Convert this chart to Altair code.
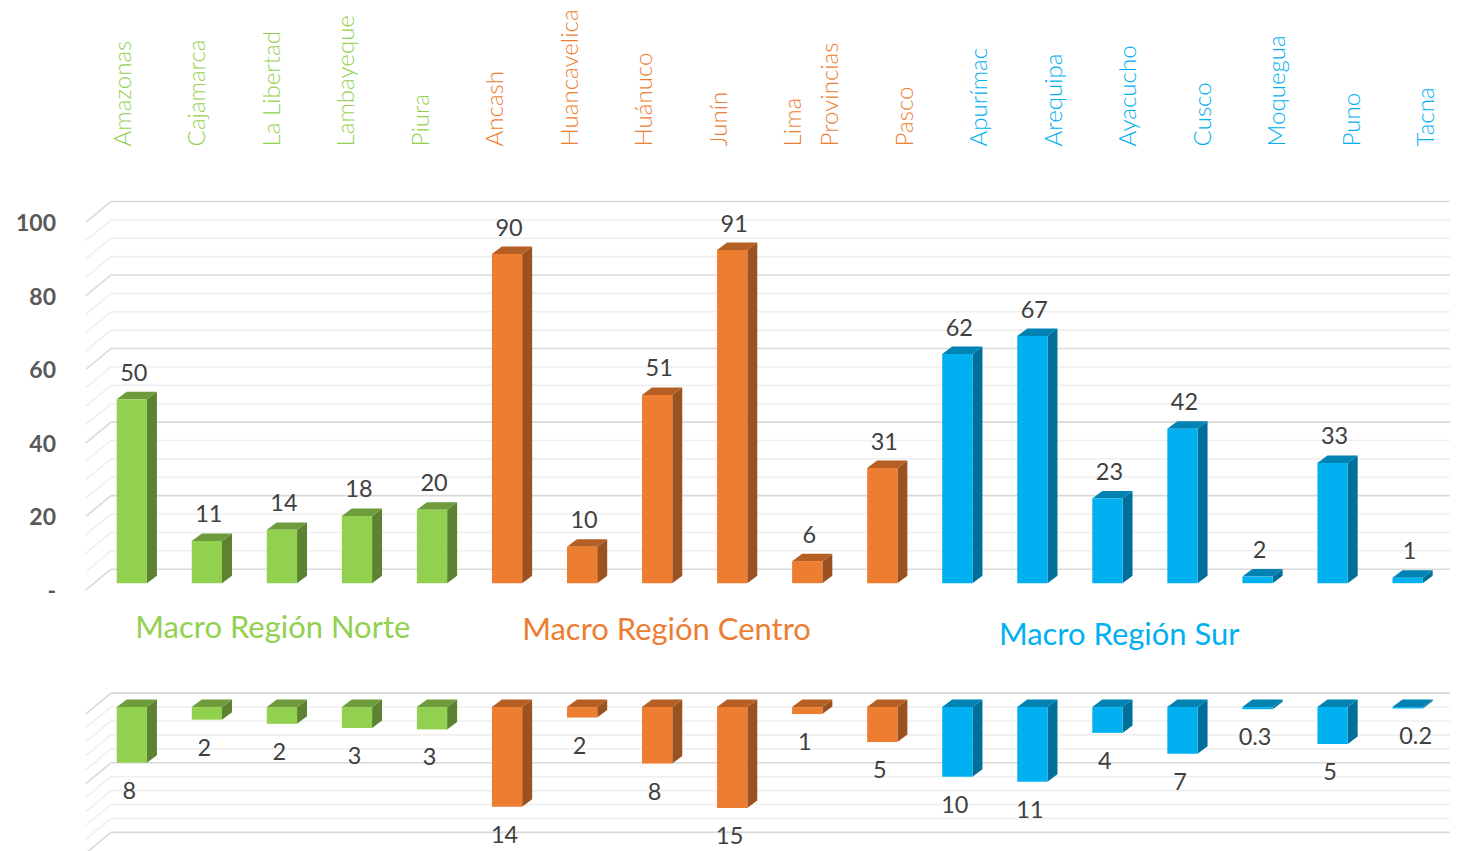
import altair as alt
import pandas as pd

# ---- data
regions = ["Amazonas", "Cajamarca", "La Libertad", "Lambayeque", "Piura",
           "Ancash", "Huancavelica", "Huánuco", "Junín", "Lima\nProvincias", "Pasco",
           "Apurímac", "Arequipa", "Ayacucho", "Cusco", "Moquegua", "Puno", "Tacna"]
groups = ["N"] * 5 + ["C"] * 6 + ["S"] * 7
top_values = [50, 11.5, 14.5, 18.3, 20, 89.5, 9.9, 51.2, 90.6, 6, 31.3, 62.3, 67.2, 23, 42, 1.8, 32.7, 1.5]
top_labels = ["50", "11", "14", "18", "20", "90", "10", "51", "91", "6", "31", "62", "67", "23", "42", "2", "33", "1"]
bottom_values = [8, 1.8, 2.4, 3, 3.2, 14.3, 1.5, 8.1, 14.5, 1, 5, 10, 10.7, 3.7, 6.7, 0.3, 5.3, 0.2]
bottom_labels = ["8", "2", "2", "3", "3", "14", "2", "8", "15", "1", "5", "10", "11", "4", "7", "0.3", "5", "0.2"]
y_ticks = [0, 20, 40, 60, 80, 100]
y_tick_labels = ["-\u00a0\u00a0\u00a0", "20", "40", "60", "80", "100"]
titles = [("Macro Región Norte", "N", 273, 629), ("Macro Región Centro", "C", 667, 631), ("Macro Región Sur", "S", 1120, 636)]

front = {"N": "#92D050", "C": "#ED7D31", "S": "#00B0F0"}
side = {"N": "#5E8233", "C": "#9C5220", "S": "#00709A"}
lid = {"N": "#6E9C3C", "C": "#B55F25", "S": "#0083B3"}

# ---- geometry
FONT = "Lato"
W = 1443
X_DOM = [-1.65, 17.565]
BAR = 0.403
DX = 0.133          # depth of a bar, in category units
WALL_X, TICK_X = -0.278, -0.611
x_scale = alt.Scale(domain=X_DOM, range=[0, W], nice=False, zero=False)


def panel(values, labels, sign, ppu, zero_px, top_px, bot_px, grid, major, label_dx, label_dy, ticks, extras, nudge=None):
    """sign=+1 bars rise, sign=-1 bars hang; ppu = pixels per unit."""
    nudge = nudge or {}
    y_scale = alt.Scale(domain=[(zero_px - bot_px) / ppu, (zero_px - top_px) / ppu],
                        range=[bot_px - top_px, 0], nice=False, zero=False)
    depth = 7.5 / ppu
    wall = 14 / ppu
    tick = -6.7 / ppu
    g = pd.DataFrame({"v": grid})
    g["wall"] = g.v + wall
    g["front"] = g.v + tick
    g["x0"], g["x1"], g["xt"] = WALL_X, X_DOM[1], TICK_X
    g["major"] = [abs(v) % major == 0 for v in grid]

    rects, faces_side, faces_top, texts = [], [], [], []
    for i, (v, lab, gr) in enumerate(zip(values, labels, groups)):
        L, R = i - BAR / 2, i + BAR / 2
        hi = v if sign > 0 else 0
        lo = 0 if sign > 0 else -v
        rects.append(dict(x0=L, x1=R, y0=lo, y1=hi, c=front[gr]))
        for x, y, y2 in [(R, hi, lo), (R + DX, hi + depth, lo + depth)]:
            faces_side.append(dict(bar=i, x=x, y=y, y2=y2, c=side[gr]))
        for x, y, y2 in [(L, hi, hi), (L + DX, hi + depth, hi), (R, hi + depth, hi), (R + DX, hi + depth, hi + depth)]:
            faces_top.append(dict(bar=i, x=x, y=y, y2=y2, c=lid[gr]))
        texts.append(dict(x=i + nudge.get(i, 0), y=(hi + depth) if sign > 0 else lo, t=lab))

    def X(f):
        return alt.X(f, scale=x_scale, axis=None)

    def Y(f):
        return alt.Y(f, scale=y_scale, axis=None, stack=None)

    layers = []
    for is_major, color in [(False, "#efefef"), (True, "#d9d9d9")]:
        d = g[g.major == is_major]
        layers.append(alt.Chart(d).mark_rule(color=color, strokeWidth=1.6).encode(
            x=X("x0:Q"), x2="x1:Q", y=Y("wall:Q")))
        layers.append(alt.Chart(d).mark_rule(color=color, strokeWidth=1.6).encode(
            x=X("xt:Q"), x2="x0:Q", y=Y("front:Q"), y2="wall:Q"))
    col = alt.Color("c:N", scale=None, legend=None)
    layers.append(alt.Chart(pd.DataFrame(faces_side)).mark_area(interpolate="linear").encode(
        x=X("x:Q"), y=Y("y:Q"), y2="y2:Q", detail="bar:N", color=col))
    layers.append(alt.Chart(pd.DataFrame(faces_top)).mark_area(interpolate="linear").encode(
        x=X("x:Q"), y=Y("y:Q"), y2="y2:Q", detail="bar:N", color=col))
    layers.append(alt.Chart(pd.DataFrame(rects)).mark_rect().encode(
        x=X("x0:Q"), x2="x1:Q", y=Y("y0:Q"), y2="y1:Q", color=col))
    layers.append(alt.Chart(pd.DataFrame(texts)).mark_text(
        font=FONT, fontSize=23.5, color="#404040", dx=label_dx, dy=label_dy, baseline="middle").encode(
        x=X("x:Q"), y=Y("y:Q"), text="t:N"))
    if ticks is not None:
        layers.append(alt.Chart(ticks).mark_text(
            font=FONT, fontSize=23, fontWeight=700, color="#595959", align="right",
            baseline="middle", dy=8.6).encode(
            x=alt.value(48), y=Y("v:Q"), text="t:N"))
    return alt.layer(*(layers + extras)).properties(width=W, height=bot_px - top_px)


# category labels: a two-line label takes one and a half slots
slots, s = [], 0.0
for r in regions:
    slots.append(s)
    s += 1 + 0.5 * r.count("\n")
lab_df = pd.DataFrame({"x": [-0.27 + 0.9928 * k for k in slots], "t": regions,
                       "c": [front[g] for g in groups]})
cat_labels = alt.Chart(lab_df).mark_text(
    font=FONT, fontSize=24.1, fontWeight=300, angle=270, align="left", baseline="top",
    lineBreak="\n", lineHeight=37.3).encode(
    x=alt.X("x:Q", scale=x_scale, axis=None), y=alt.value(138.2), text="t:N",
    color=alt.Color("c:N", scale=None, legend=None))

title_layers = [
    alt.Chart(pd.DataFrame({"t": [t]})).mark_text(
        font=FONT, fontSize=31, color=front[g], align="center", baseline="middle").encode(
        x=alt.value(px - 8), y=alt.value(py - 8), text="t:N")
    for t, g, px, py in titles
]

tick_df = pd.DataFrame({"v": y_ticks, "t": y_tick_labels})

top = panel(top_values, top_labels, 1, 3.68, 583.3, 8, 660,
            list(range(0, 105, 5)), 20, 2, -18, tick_df, [cat_labels] + title_layers)
bottom = panel(bottom_values, bottom_labels, -1, 6.97, 707.3, 660, 851,
               [-v for v in range(0, 22, 2)], 10, -2.5, 29, None, [], nudge={17: 0.14})

chart = alt.vconcat(top, bottom, spacing=0, bounds="flush").properties(padding=0).configure_view(stroke=None)
chart.save("out.html", embed_options={"renderer": "svg", "actions": False})
